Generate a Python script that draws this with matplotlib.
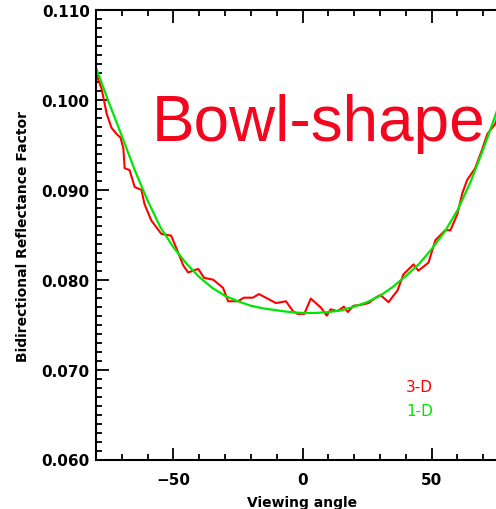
import numpy as np
import matplotlib
matplotlib.use("Agg")
import matplotlib.pyplot as plt
from matplotlib.ticker import MultipleLocator, FormatStrFormatter

# 3-D result (red)
angle_3d = [-80, -77.8, -75.9, -74, -72, -70.5, -69.4, -68.9, -67, -65, -62.4, -61.2,
            -58.6, -54.7, -50.9, -49, -46.2, -44.3, -42.4, -40.4, -38.1, -34.6, -30.8,
            -28.8, -25, -22.7, -19.2, -16.9, -14.2, -10.3, -6.4, -3.7, -1.9, 0.7, 3.2,
            7.1, 9.4, 10.9, 13.6, 16, 17.5, 19.8, 22.5, 25.6, 28.3, 30.2, 33.3, 36.8,
            39.1, 43, 44.9, 48.8, 51.5, 55.3, 57.3, 60, 61.9, 63.8, 66.9, 69.6, 71.6,
            74.6, 77.5, 80]
brf_3d = [0.1030, 0.1012, 0.0985, 0.0969, 0.0962, 0.0958, 0.0946, 0.0924, 0.0922, 0.0903,
          0.0900, 0.0884, 0.0866, 0.0851, 0.0849, 0.0836, 0.0816, 0.0808, 0.0810, 0.0812,
          0.0802, 0.0800, 0.0791, 0.0776, 0.0776, 0.0780, 0.0780, 0.0784, 0.0780, 0.0774,
          0.0776, 0.0765, 0.0762, 0.0762, 0.0779, 0.0769, 0.0760, 0.0767, 0.0765, 0.0770,
          0.0764, 0.0771, 0.0772, 0.0774, 0.0780, 0.0783, 0.0775, 0.0788, 0.0806, 0.0817,
          0.0810, 0.0819, 0.0844, 0.0855, 0.0855, 0.0873, 0.0896, 0.0911, 0.0924, 0.0945,
          0.0962, 0.0973, 0.0995, 0.1020]

# 1-D result (green)
angle_1d = [-80, -75, -70, -65, -60, -55, -50, -45, -40, -35, -30, -25, -20, -15, -10, -5,
            0, 5, 10, 15, 20, 25, 30, 35, 40, 45, 50, 55, 60, 65, 70, 75, 80]
brf_1d = [0.1036, 0.0997, 0.0960, 0.0922, 0.0888, 0.0858, 0.0836, 0.0818, 0.0803, 0.0791,
          0.0782, 0.0776, 0.0771, 0.0768, 0.0766, 0.0764, 0.0763, 0.0763, 0.0764, 0.0766,
          0.0770, 0.0775, 0.0782, 0.0792, 0.0804, 0.0817, 0.0834, 0.0853, 0.0877, 0.0908,
          0.0945, 0.0985, 0.1030]

W, H = 496, 510
fig = plt.figure(figsize=(W / 100, H / 100), dpi=100)
# axes runs past the right edge, like the cropped original
ax = fig.add_axes([96 / W, (H - 460.5) / H, (509 - 96) / W, 449.5 / H])

ax.plot(angle_3d, brf_3d, color="#ff0000", lw=1.5)
ax.plot(angle_1d, brf_1d, color="#00e600", lw=1.6)

ax.set_xlim(-80, 80)
ax.set_ylim(0.060, 0.110)
ax.xaxis.set_major_locator(MultipleLocator(50))
ax.xaxis.set_minor_locator(MultipleLocator(10))
ax.yaxis.set_major_locator(MultipleLocator(0.01))
ax.yaxis.set_minor_locator(MultipleLocator(0.001))
ax.yaxis.set_major_formatter(FormatStrFormatter("%.3f"))

ax.tick_params(which="both", direction="in", top=True, right=False, width=1.3, color="black")
ax.tick_params(which="major", length=9)
ax.tick_params(which="minor", length=4.5)
ax.tick_params(axis="x", which="major", pad=9)
ax.tick_params(axis="y", which="major", pad=4.5)
for lab in ax.get_xticklabels() + ax.get_yticklabels():
    lab.set_fontsize(11)
    lab.set_fontweight("bold")
for s in ax.spines.values():
    s.set_linewidth(1.5)

fig.text(301.7 / W, 7 / H, "Viewing angle", ha="center", va="center",
         fontsize=10, fontweight="bold")
fig.text(23 / W, (H - 236) / H, "Bidirectional Reflectance Factor", rotation=90,
         ha="center", va="center", fontsize=10, fontweight="bold")

fig.text(152 / W, (H - 141) / H, "Bowl-shape", color="#f2071f", fontsize=46,
         family="Liberation Sans", ha="left", va="baseline")

fig.text(406 / W, (H - 388) / H, "3-D", color="#ff0000", fontsize=11, ha="left", va="center")
fig.text(406 / W, (H - 411.5) / H, "1-D", color="#00e600", fontsize=11, ha="left", va="center")

fig.savefig("out.png", dpi=100)
